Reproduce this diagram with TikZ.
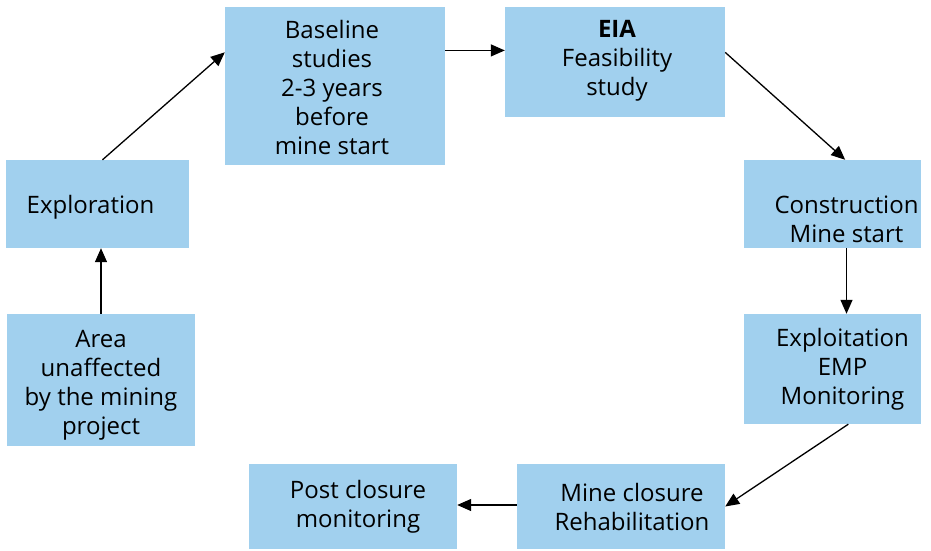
\documentclass[tikz,border=0pt]{standalone}
\usepackage{fontspec}
\setmainfont{Open Sans}
\usepackage{xcolor}
\usetikzlibrary{arrows.meta}
\definecolor{boxblue}{RGB}{161,208,238}
\tikzset{
  stage/.style={fill=boxblue,inner sep=0pt},
  stagetext/.style={inner sep=0pt,align=center,font=\fontsize{24}{29}\selectfont},
  arr/.style={-{Triangle[length=14pt,width=12pt]},line width=1.3pt}
}
\begin{document}
\begin{tikzpicture}[x=1pt,y=-1pt]
\useasboundingbox (0,0) rectangle (931,551);

\node[stage,minimum width=183,minimum height=88,
  label={[stagetext,xshift=-7,yshift=-3]center:Exploration}] (explor) at (97.5,204) {};
\node[stage,minimum width=188,minimum height=132,
  label={[stagetext,yshift=-5]center:Area\\unaffected\\by the mining\\project}] (area) at (101,380) {};
\node[stage,minimum width=220,minimum height=158,
  label={[stagetext,xshift=-3,yshift=-1]center:Baseline\\studies\\2-3 years\\before\\mine start}] (base) at (335,86) {};
\node[stage,minimum width=220,minimum height=110,
  label={[stagetext,xshift=2,yshift=1]center:\textbf{EIA}\\Feasibility\\study}] (eia) at (615,62) {};
\node[stage,minimum width=177,minimum height=88,
  label={[stagetext,xshift=14,yshift=-15]center:Construction\\Mine start}] (constr) at (832.5,204) {};
\node[stage,minimum width=177,minimum height=110,
  label={[stagetext,xshift=10]center:Exploitation\\EMP\\Monitoring}] (exploit) at (832.5,369) {};
\node[stage,minimum width=208,minimum height=85,
  label={[stagetext,xshift=11]center:Mine closure\\Rehabilitation}] (closure) at (621,506.5) {};
\node[stage,minimum width=208,minimum height=85,
  label={[stagetext,xshift=5]center:Post closure\\monitoring}] (post) at (353,506.5) {};

\draw[arr] (area.north) -- (area.north |- explor.south);
\draw[arr] ([xshift=5]explor.north) -- (base.163);
\draw[arr] (base.east |- eia.174) -- (eia.174);
\draw[arr] (eia.5) -- (constr.74);
\draw[arr] ([xshift=14]constr.south) -- ([xshift=14]exploit.north);
\draw[arr] (exploit.-74) -- (closure.east);
\draw[arr] ([yshift=1.5]closure.west) -- ([yshift=1.5]post.east);
\end{tikzpicture}
\end{document}
